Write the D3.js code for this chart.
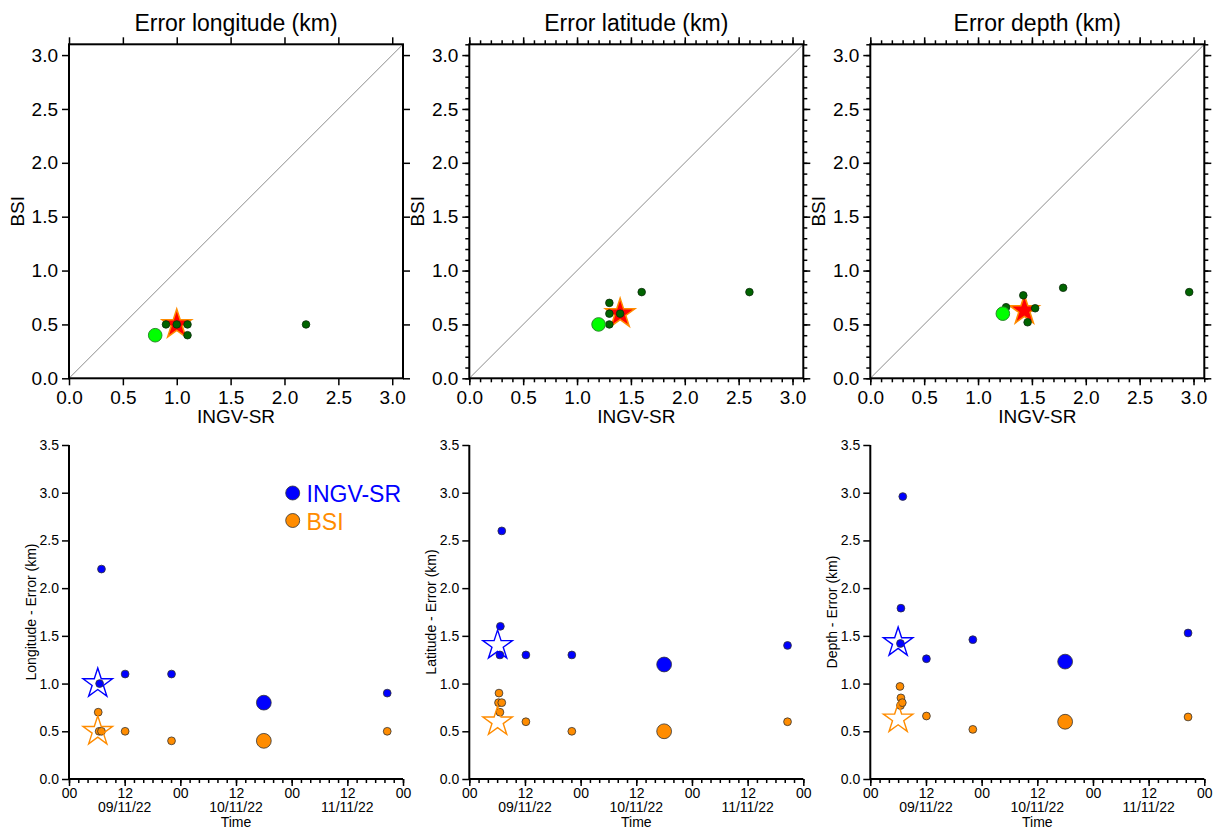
<!DOCTYPE html>
<html>
<head>
<meta charset="utf-8">
<script src="https://cdn.jsdelivr.net/npm/d3@7"></script>
<style>
  body { margin: 0; background: #fff; }
  svg { font-family: "Liberation Sans", Arial, Helvetica, sans-serif; }
</style>
</head>
<body>
<svg id="chart" width="1222" height="832"></svg>
<script>
// ---- data ----
const panelTitles = ["Error longitude (km)", "Error latitude (km)", "Error depth (km)"];
const timeYLabels = ["Longitude - Error (km)", "Latitude - Error (km)", "Depth - Error (km)"];
const scatterTicks = [0, 0.5, 1.0, 1.5, 2.0, 2.5, 3.0];
const errTicks = [0, 0.5, 1.0, 1.5, 2.0, 2.5, 3.0, 3.5];
const dayLabels = ["09/11/22", "10/11/22", "11/11/22"];

// INGV-SR vs BSI error, one pair per event
const lonPairs = [[0.9, 0.5], [1.0, 0.5], [1.1, 0.5], [1.1, 0.4], [2.2, 0.5]];
const latPairs = [[1.3, 0.7], [1.3, 0.6], [1.3, 0.5], [1.4, 0.6], [1.6, 0.8], [2.6, 0.8]];
const depPairs = [[1.26, 0.66], [1.42, 0.77], [1.53, 0.65], [1.46, 0.52], [1.79, 0.84], [2.96, 0.80]];
const bigPairs = [[0.8, 0.4], [1.2, 0.5], [1.23, 0.60]];     // largest event (light green)
const mainPairs = [[1.0, 0.5], [1.4, 0.6], [1.43, 0.63]];    // main shock (star)

// error vs time: [hours after 09/11/22 00:00, km]
const lonIngv = [[6.6, 1.0], [7.0, 2.2], [12.1, 1.1], [22.1, 1.1], [42.0, 0.8], [68.6, 0.9]];
const lonBsi = [[6.3, 0.7], [6.5, 0.5], [7.0, 0.5], [12.1, 0.5], [22.1, 0.4], [42.0, 0.4], [68.6, 0.5]];
const latIngv = [[6.6, 1.3], [6.7, 1.6], [7.0, 2.6], [12.2, 1.3], [22.1, 1.3], [42.0, 1.2], [68.6, 1.4]];
const latBsi = [[6.3, 0.8], [6.4, 0.9], [6.6, 0.7], [7.0, 0.8], [12.2, 0.6], [22.1, 0.5], [42.0, 0.5], [68.6, 0.6]];
const depIngv = [[6.5, 1.42], [6.6, 1.79], [7.0, 2.96], [12.1, 1.26], [22.1, 1.46], [42.0, 1.23], [68.5, 1.53]];
const depBsi = [[6.4, 0.97], [6.5, 0.77], [6.6, 0.85], [6.9, 0.80], [12.1, 0.66], [22.1, 0.52], [42.0, 0.60], [68.5, 0.65]];
const mainHours = [6.2, 6.1, 6.0];
const bigHour = 42.0;

// ---- layout ----
const svg = d3.select("#chart");
const W = 334;
const panelX = [69, 469.3, 870.3];
const topY = 44.3, botY = 445;
const blue = "#0000ff", orange = "#ff8c00";
const t0 = Date.UTC(2022, 10, 9);
const toDate = h => new Date(t0 + h * 3600e3);

const pairs = [lonPairs, latPairs, depPairs];
const ingv = [lonIngv, latIngv, depIngv];
const bsi = [lonBsi, latBsi, depBsi];

function styleAxis(g, size) {
    g.attr("font-size", size).attr("font-family", null);
    g.selectAll(".tick line").attr("stroke", "#000").attr("stroke-width", 1.5);
    g.select(".domain").remove();
    g.selectAll("text").attr("fill", "#000");
}

function drawScatter(i) {
    let g = svg.append("g").attr("transform", `translate(${panelX[i]},${topY})`);
    let x = d3.scaleLinear().domain([0, 3.1]).range([0, W]);
    let y = d3.scaleLinear().domain([0, 3.1]).range([W, 0]);
    let fmt = d3.format(".1f");
    let minors = d3.range(0, 32).map(d => d / 10);

    if (i > 0) {
        [[d3.axisBottom(x), `0,${W}`], [d3.axisTop(x), "0,0"],
         [d3.axisLeft(y), "0,0"], [d3.axisRight(y), `${W},0`]].forEach(([ax, tr]) => {
            g.append("g").attr("transform", `translate(${tr})`)
                .call(ax.tickValues(minors).tickSize(4).tickFormat(""))
                .call(a => styleAxis(a, 19));
        });
    }
    g.append("g").attr("transform", `translate(0,${W})`)
        .call(d3.axisBottom(x).tickValues(scatterTicks).tickSize(7).tickPadding(5).tickFormat(fmt))
        .call(a => styleAxis(a, 19));
    g.append("g")
        .call(d3.axisTop(x).tickValues(scatterTicks).tickSize(7).tickFormat(""))
        .call(a => styleAxis(a, 19));
    g.append("g")
        .call(d3.axisLeft(y).tickValues(scatterTicks).tickSize(7).tickPadding(4).tickFormat(fmt))
        .call(a => styleAxis(a, 19));
    g.append("g").attr("transform", `translate(${W},0)`)
        .call(d3.axisRight(y).tickValues(scatterTicks).tickSize(7).tickFormat(""))
        .call(a => styleAxis(a, 19));

    g.append("line")
        .attr("x1", x(0)).attr("y1", y(0)).attr("x2", x(3.1)).attr("y2", y(3.1))
        .attr("stroke", "#8c8c8c").attr("stroke-width", 1);

    g.append("rect").attr("width", W).attr("height", W)
        .attr("fill", "none").attr("stroke", "#000").attr("stroke-width", 2);

    let star = d3.symbol().type(d3.symbolStar).size(15.5 * 15.5 / 0.8908130915292852);
    g.append("path")
        .attr("d", star())
        .attr("transform", `translate(${x(mainPairs[i][0])},${y(mainPairs[i][1])})`)
        .attr("fill", "#ff0000").attr("stroke", "#ff8c00").attr("stroke-width", 1.5);

    g.selectAll("circle.ev")
        .data(pairs[i])
        .enter()
        .append("circle")
        .attr("class", "ev")
      .attr("cx", d => x(d[0]))
      .attr("cy", d => y(d[1]))
      .attr("r", 3.8)
      .attr("fill", "#006400")
      .attr("stroke", "#0a2a0a")
      .attr("stroke-width", 0.8);

    g.append("circle")
        .attr("cx", x(bigPairs[i][0])).attr("cy", y(bigPairs[i][1])).attr("r", 6.8)
        .attr("fill", "#00ff00").attr("stroke", "#2b8a2b").attr("stroke-width", 1);

    g.append("text").attr("x", W / 2).attr("y", 31 - topY)
        .attr("text-anchor", "middle").attr("font-size", 23).text(panelTitles[i]);
    g.append("text").attr("x", W / 2).attr("y", 423 - topY)
        .attr("text-anchor", "middle").attr("font-size", 19).text("INGV-SR");
    g.append("text").attr("transform", `translate(-45.5,${W / 2}) rotate(-90)`)
        .attr("text-anchor", "middle").attr("font-size", 19).text("BSI");
}

function drawTime(i) {
    let g = svg.append("g").attr("transform", `translate(${panelX[i]},${botY})`);
    let x = d3.scaleUtc().domain([toDate(0), toDate(72)]).range([0, W]);
    let y = d3.scaleLinear().domain([0, 3.5]).range([W, 0]);

    g.append("g").attr("transform", `translate(0,${W})`)
        .call(d3.axisBottom(x).ticks(d3.utcHour.every(2)).tickSize(4).tickFormat(""))
        .call(a => styleAxis(a, 14));
    g.append("g").attr("transform", `translate(0,${W})`)
        .call(d3.axisBottom(x).ticks(d3.utcHour.every(12)).tickSize(7).tickPadding(2)
            .tickFormat(d3.utcFormat("%H")))
        .call(a => styleAxis(a, 14));
    g.append("g")
        .call(d3.axisLeft(y).tickValues(errTicks).tickSize(7).tickPadding(3).tickFormat(d3.format(".1f")))
        .call(a => styleAxis(a, 14));

    g.append("path")
        .attr("d", `M0,0V${W}H${W}`)
        .attr("fill", "none").attr("stroke", "#000").attr("stroke-width", 2);

    g.selectAll("text.day")
        .data(dayLabels)
        .enter()
        .append("text")
        .attr("class", "day")
      .attr("x", (d, k) => x(toDate(12 + 24 * k)))
      .attr("y", W + 33)
      .attr("text-anchor", "middle")
      .attr("font-size", 14)
      .text(d => d);

    g.append("text").attr("x", W / 2).attr("y", W + 48)
        .attr("text-anchor", "middle").attr("font-size", 14).text("Time");
    g.append("text").attr("transform", `translate(-33,${W / 2}) rotate(-90)`)
        .attr("text-anchor", "middle").attr("font-size", 14).text(timeYLabels[i]);

    [[ingv[i], blue], [bsi[i], orange]].forEach(([series, col]) => {
        g.selectAll(null)
            .data(series)
            .enter()
            .append("circle")
          .attr("cx", d => x(toDate(d[0])))
          .attr("cy", d => y(d[1]))
          .attr("r", d => d[0] === bigHour ? 7.4 : 3.9)
          .attr("fill", col)
          .attr("stroke", "#333")
          .attr("stroke-width", 0.8);
    });

    let star = d3.symbol().type(d3.symbolStar).size(15.5 * 15.5 / 0.8908130915292852);
    [[mainPairs[i][0], blue], [mainPairs[i][1], orange]].forEach(([v, col]) => {
        g.append("path")
            .attr("d", star())
            .attr("transform", `translate(${x(toDate(mainHours[i]))},${y(v)})`)
            .attr("fill", "none").attr("stroke", col).attr("stroke-width", 1.4);
    });

    if (i === 0) {
        let legend = [["INGV-SR", blue], ["BSI", orange]];
        legend.forEach(([name, col], k) => {
            g.append("circle").attr("cx", 223.7).attr("cy", 48 + k * 27.5).attr("r", 7)
                .attr("fill", col).attr("stroke", "#333").attr("stroke-width", 0.8);
            g.append("text").attr("x", 237.5).attr("y", 56.5 + k * 28)
                .attr("font-size", 23).attr("fill", col).text(name);
        });
    }
}

[0, 1, 2].forEach(i => { drawScatter(i); drawTime(i); });
</script>
</body>
</html>
